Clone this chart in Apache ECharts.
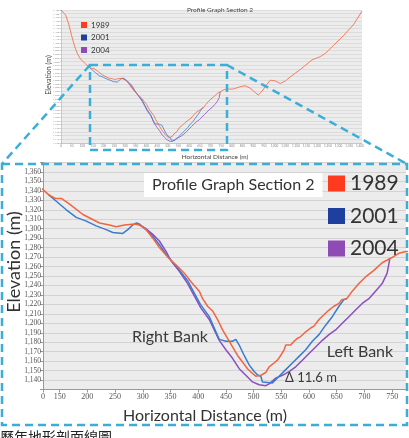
<!DOCTYPE html>
<html>
<head>
<meta charset="utf-8">
<script src="https://cdn.jsdelivr.net/npm/echarts@6/dist/echarts.min.js"></script>
<style>
html,body{margin:0;padding:0;background:#fff;}
#chart{width:409px;height:438px;}
</style>
</head>
<body>
<div id="chart"></div>
<script>
// profile data: horizontal distance (m) / elevation (m)
var years=['1989','2001','2004'];

var dist1989=[0,8,22,36,50,64,78,92,111,130,142,153,168,192,222,240,252,267,285,294,306,318,330,345,363,375,387,402,408,417,426,435,444,453,462,471,480,489,498,504,513,522,528,537,543,549,555,558,567,573,579,585,594,603,609,618,627,636,645,654,659,668,678,690,702,717,732,748,762,775,806,838,862,885,909,924,940,964,980,1003,1027,1051,1074,1121,1176,1215,1239,1278,1324,1372,1410];
var elev1989=[1490,1489,1476,1452,1420,1391,1370,1357,1346,1336,1332,1332,1326,1315,1306,1304,1302,1304,1305,1304,1299,1290,1280,1270,1260,1253,1244,1234,1226,1218,1213,1204,1193,1184,1175,1166,1159,1152,1147,1144,1145,1148,1154,1158,1161,1166,1172,1177,1177,1181,1184,1186,1191,1195,1197,1204,1209,1214,1218,1221,1225,1226,1234,1242,1249,1256,1264,1269,1274,1276,1276,1282,1285,1279,1267,1260,1269,1288,1300,1298,1291,1298,1309,1329,1355,1364,1373,1395,1421,1452,1487];

var dist2001=[130,144,162,180,198,216,234,246,264,273,282,288,294,306,318,330,342,352,366,381,393,404,420,429,438,450,462,468,474,483,492,501,508,513,516,534,546,558,570,582,594,606,618,630,642,654,663,668];
var elev2001=[1336,1329,1320,1312,1308,1303,1299,1296,1295,1299,1304,1306,1305,1299,1292,1283,1273,1266,1256,1245,1232,1220,1207,1195,1183,1181,1181,1183,1177,1166,1156,1149,1145,1144,1138,1137,1144,1151,1158,1165,1172,1181,1188,1198,1207,1218,1225,1226];

var dist2004=[288,306,318,330,342,351,366,381,393,405,420,429,438,450,462,474,486,498,510,522,528,540,552,564,576,588,600,612,624,636,648,660,672,684,696,708,720,732,741,746];
var elev2004=[1306,1300,1294,1287,1276,1266,1255,1242,1229,1216,1204,1193,1182,1172,1163,1152,1145,1138,1135,1134,1136,1142,1145,1149,1154,1161,1168,1175,1182,1188,1193,1200,1207,1214,1221,1226,1234,1242,1253,1269];

var bigXTicks=[120,150,200,250,300,350,400,450,500,550,600,650,700,750];
var bigXLabels=['0','150','200','250','300','350','400','450','500','550','600','650','700','750'];

var lineColors=['#f26440','#3a7ccc','#8b4fbf'];
var keyColors=['#ff3b1f','#1f3f9e','#8e4bb5'];

function pairs(d,e){
    return d.map(function(x,i){return [x,e[i]];});
}
var seriesData=[pairs(dist1989,elev1989),pairs(dist2001,elev2001),pairs(dist2004,elev2004)];

var font='Lato';
var dash={stroke:'#3aaed8',lineWidth:2.5,lineDash:[8,5],fill:null};
function fmtThousands(v){
    return v.toLocaleString('en-US');
}

var myChart=echarts.init(document.getElementById('chart'));

var series=[];
// draw 2004 first, then 2001, then 1989 on top
[2,1,0].forEach(function(k){
    series.push({
        name:years[k],type:'line',xAxisIndex:0,yAxisIndex:0,
        data:seriesData[k],showSymbol:false,silent:true,
        lineStyle:{color:lineColors[k],width:0.8},
        itemStyle:{color:keyColors[k]}
    });
    series.push({
        name:years[k],type:'line',xAxisIndex:1,yAxisIndex:1,
        data:seriesData[k],showSymbol:false,silent:true,
        lineStyle:{color:lineColors[k],width:1.5},
        itemStyle:{color:keyColors[k]}
    });
});

option={
    animation:false,
    textStyle:{fontFamily:font},
    title:[{
        text:'Profile Graph Section 2',left:215,top:1,textAlign:'center',
        textStyle:{fontSize:6.5,fontWeight:'normal',color:'#444',fontFamily:font}
    },{
        text:'Profile Graph Section 2',left:144,top:173,padding:[4,8,4,8],
        backgroundColor:'#ffffff',
        textStyle:{fontSize:16,fontWeight:'normal',color:'#333',fontFamily:font}
    }],
    legend:[{
        data:years,orient:'vertical',left:81,top:21,
        icon:'rect',itemWidth:6,itemHeight:6,itemGap:4.5,padding:0,
        textStyle:{fontSize:8,lineHeight:6,color:'#333',padding:[0,0,0,-1]}
    },{
        data:years,orient:'vertical',left:328,top:173,
        icon:'rect',itemWidth:17,itemHeight:16,itemGap:11.5,padding:0,
        textStyle:{fontSize:21,lineHeight:16,color:'#333',padding:[0,0,0,0]}
    }],
    grid:[{
        left:61,right:47,top:10,bottom:295,show:true,backgroundColor:'#ececec',borderWidth:0
    },{
        left:43,right:3,top:162.5,bottom:48.5,show:true,backgroundColor:'#ececec',borderWidth:0
    }],
    xAxis:[{
        gridIndex:0,type:'value',min:0,max:1410,interval:50,
        axisLine:{lineStyle:{color:'#aaa',width:0.5}},
        axisTick:{length:1,lineStyle:{color:'#aaa',width:0.5}},
        axisLabel:{fontSize:3,margin:1.5,color:'#888',showMaxLabel:false},
        splitLine:{show:false}
    },{
        gridIndex:1,type:'value',min:120,max:775,
        axisLine:{lineStyle:{color:'#999'}},
        axisTick:{customValues:bigXTicks,length:3,lineStyle:{color:'#999'}},
        axisLabel:{
            customValues:bigXTicks,fontSize:8,margin:3,color:'#555',fontFamily:'Liberation Serif',
            formatter:function(v){return bigXLabels[bigXTicks.indexOf(v)];}
        },
        splitLine:{show:false}
    }],
    yAxis:[{
        gridIndex:0,type:'value',min:1130,max:1490,interval:10,
        axisLine:{show:true,lineStyle:{color:'#aaa',width:0.5}},
        axisTick:{show:true,length:1,lineStyle:{color:'#aaa',width:0.5}},
        axisLabel:{fontSize:2.6,margin:1.5,color:'#888',formatter:fmtThousands},
        splitLine:{lineStyle:{color:'#d2d2d2',width:0.6}}
    },{
        gridIndex:1,type:'value',min:1130,max:1370,interval:10,
        axisLine:{show:true,lineStyle:{color:'#999'}},
        axisTick:{show:true,length:3,lineStyle:{color:'#999'}},
        axisLabel:{
            fontSize:7.5,margin:2,color:'#555',fontFamily:'Liberation Serif',
            formatter:function(v){return (v===1130||v===1370)?'':fmtThousands(v);}
        },
        splitLine:{lineStyle:{color:'#d3d3d3',width:1}}
    }],
    graphic:[
        {type:'text',x:49,y:75,rotation:Math.PI/2,style:{text:'Elevation (m)',fontSize:7,fontFamily:font,fill:'#444',textAlign:'center',textVerticalAlign:'middle'}},
        {type:'text',x:215,y:157,style:{text:'Horizontal Distance (m)',fontSize:6.5,fontFamily:font,fill:'#444',textAlign:'center',textVerticalAlign:'middle'}},
        {type:'text',x:14,y:262,rotation:Math.PI/2,style:{text:'Elevation (m)',fontSize:18,fontFamily:font,fill:'#333',textAlign:'center',textVerticalAlign:'middle'}},
        {type:'text',x:205,y:416,style:{text:'Horizontal Distance (m)',fontSize:16,fontFamily:font,fill:'#333',textAlign:'center',textVerticalAlign:'middle'}},
        {type:'text',x:170,y:337,z:10,style:{text:'Right Bank',fontSize:16,fontFamily:font,fill:'#3a3a3a',textAlign:'center',textVerticalAlign:'middle'}},
        {type:'text',x:360,y:352,z:10,style:{text:'Left Bank',fontSize:16,fontFamily:font,fill:'#3a3a3a',textAlign:'center',textVerticalAlign:'middle'}},
        {type:'text',x:311,y:378,z:10,style:{text:'Δ 11.6 m',fontSize:13,fontFamily:font,fill:'#3a3a3a',textAlign:'center',textVerticalAlign:'middle'}},
        {type:'text',x:0,y:430,style:{text:'歷年地形剖面線圖',fontSize:14,fontFamily:'Noto Sans CJK TC',fill:'#222',textAlign:'left',textVerticalAlign:'top'}},
        {type:'rect',z:20,shape:{x:90,y:65,width:137,height:85},style:dash},
        {type:'rect',z:20,shape:{x:2,y:164,width:405,height:261},style:dash},
        {type:'line',z:20,shape:{x1:90,y1:65,x2:2,y2:164},style:dash},
        {type:'line',z:20,shape:{x1:227,y1:65,x2:407,y2:164},style:dash}
    ],
    series:series
};
myChart.setOption(option);
</script>
</body>
</html>
